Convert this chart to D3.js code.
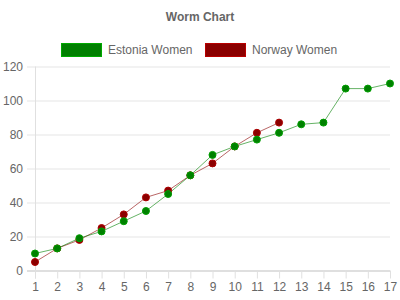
<!DOCTYPE html>
<html>
<head>
<meta charset="utf-8">
<script src="https://cdn.jsdelivr.net/npm/d3@7"></script>
<style>
  body { margin: 0; background: #fff; }
  svg { font-family: "Liberation Sans", Arial, sans-serif; }
</style>
</head>
<body>
<div></div>
<script>
var rounds = [1, 2, 3, 4, 5, 6, 7, 8, 9, 10, 11, 12, 13, 14, 15, 16, 17];
var estonia = [10, 13, 19, 23, 29, 35, 45, 56, 68, 73, 77, 81, 86, 87, 107, 107, 110];
var norway = [5, 13, 18, 25, 33, 43, 47, 56, 63, 73, 81, 87];
var yTicks = [0, 20, 40, 60, 80, 100, 120];

var series = [
  { id: "Estonia Women", color: "#008000", values: estonia },
  { id: "Norway Women", color: "#8b0000", values: norway }
];

var width = 400;
var height = 300;
var margin = { top: 67, right: 10, bottom: 29, left: 35 };

var svg = d3.select("body").select("div")
  .append("svg")
  .attr("width", width)
  .attr("height", height);

var xScale = d3.scaleLinear()
  .domain([1, 17])
  .range([margin.left, width - margin.right]);

var yScale = d3.scaleLinear()
  .domain([0, 120])
  .range([height - margin.bottom - 0.5, margin.top - 0.5]);

// title
svg.append("text")
  .attr("x", 200)
  .attr("y", 21)
  .attr("text-anchor", "middle")
  .style("font-size", "12px")
  .style("font-weight", "bold")
  .style("fill", "#666")
  .text("Worm Chart");

// legend
var legendX = [61, 205];
series.forEach(function(s, i) {
  svg.append("rect")
    .attr("x", legendX[i] + 0.5)
    .attr("y", 43.5)
    .attr("width", 40)
    .attr("height", 13)
    .attr("fill", s.color)
    .attr("stroke", d3.color(s.color).brighter(0.8))
    .attr("stroke-width", 1);
  svg.append("text")
    .attr("x", legendX[i] + 47)
    .attr("y", 54)
    .style("font-size", "12px")
    .style("fill", "#666")
    .text(s.id);
});

// y grid + axis
var yAxis = d3.axisLeft(yScale)
  .tickValues(yTicks)
  .tickSize(-(width - margin.right - margin.left + 8))
  .tickPadding(4);

var gy = svg.append("g")
  .attr("transform", "translate(" + (margin.left - 8) + ",0)")
  .call(yAxis);
gy.select(".domain").remove();
gy.selectAll(".tick line")
  .attr("stroke", function(d) { return d === 0 ? "#bfbfbf" : "#e5e5e5"; });
gy.selectAll(".tick text")
  .style("font-size", "12px")
  .style("fill", "#666")
  .style("font-family", "Liberation Sans, Arial, sans-serif");

// x axis
var xAxis = d3.axisBottom(xScale)
  .tickValues(rounds)
  .tickSize(8)
  .tickPadding(4);

var gx = svg.append("g")
  .attr("transform", "translate(0," + yScale(0) + ")")
  .call(xAxis);
gx.select(".domain").remove();
gx.selectAll(".tick line").attr("stroke", "#e0e0e0");
gx.selectAll(".tick text")
  .style("font-size", "12px")
  .style("fill", "#666")
  .style("font-family", "Liberation Sans, Arial, sans-serif");

// vertical axis line
svg.append("line")
  .attr("x1", margin.left + 0.5)
  .attr("x2", margin.left + 0.5)
  .attr("y1", yScale(120))
  .attr("y2", yScale(0) + 8)
  .attr("stroke", "#e0e0e0");

var line = d3.line()
  .x(function(d, i) { return xScale(rounds[i]); })
  .y(function(d) { return yScale(d); });

var plot = svg.append("g");

// draw Norway first then Estonia on top
series.slice().reverse().forEach(function(s) {
  plot.append("path")
    .datum(s.values)
    .attr("d", line)
    .attr("fill", "none")
    .attr("stroke", s.color)
    .attr("stroke-opacity", 0.6)
    .attr("stroke-width", 1);
});
series.slice().reverse().forEach(function(s) {
  plot.append("g")
    .selectAll("circle")
    .data(s.values)
    .enter()
    .append("circle")
    .attr("cx", function(d, i) { return xScale(rounds[i]); })
    .attr("cy", function(d) { return yScale(d); })
    .attr("r", 3.5)
    .attr("fill", s.color)
    .attr("stroke", d3.color(s.color).brighter(0.6))
    .attr("stroke-width", 1);
});
</script>
</body>
</html>
